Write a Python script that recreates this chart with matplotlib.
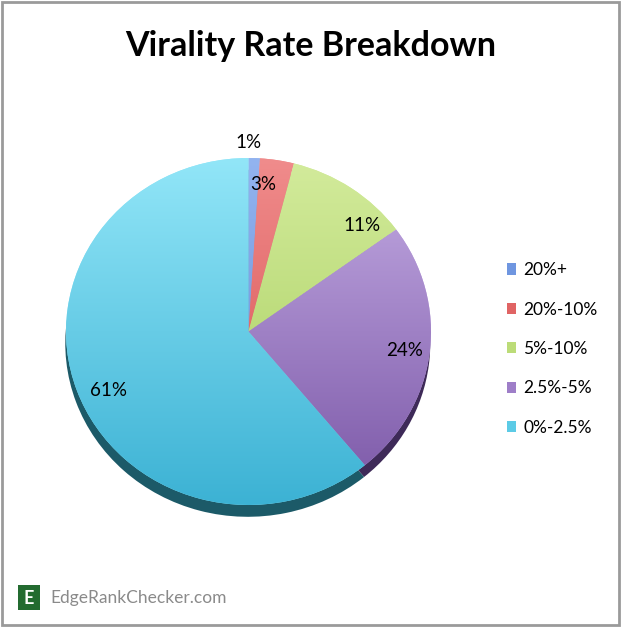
import numpy as np
import matplotlib
matplotlib.use("Agg")
import matplotlib.pyplot as plt
from matplotlib.patches import Rectangle, Patch
from matplotlib.colors import LinearSegmentedColormap

# ---------------- data ----------------
categories = ["20%+", "20%-10%", "5%-10%", "2.5%-5%", "0%-2.5%"]
values = [1, 3, 11, 24, 61]
labels = ["1%", "3%", "11%", "24%", "61%"]
title = "Virality Rate Breakdown"
brand = "EdgeRankChecker.com"

# ---------------- style ----------------
top_colors = ["#93b4f0", "#f08c8c", "#d3eb9c", "#c4ace4", "#92e6f8"]
bot_colors = ["#5f86d0", "#d44848", "#a4cc58", "#7a56a6", "#3cb2d4"]
shadow_colors = ["#30466e", "#6e2424", "#56702a", "#3e2a58", "#1c5a68"]
legend_colors = ["#6f96e0", "#e06464", "#bcdc78", "#9e7ec8", "#5ccbe6"]
label_radius = [1.09, 0.85, 0.87, 0.86, 0.84]
label_shift = [1.8, 3.7, -11.4, -0.3, 3.9]

plt.rcParams["font.family"] = ["Lato", "DejaVu Sans"]

W, H = 622, 628
fig = plt.figure(figsize=(W / 100, H / 100), dpi=100)

# background / decorations axes in pixel coordinates
bg = fig.add_axes([0, 0, 1, 1], zorder=0)
bg.set_xlim(0, W)
bg.set_ylim(H, 0)
bg.axis("off")
bg.add_patch(Rectangle((2, 2), 617, 623, fill=False, edgecolor="#9a9a9a", linewidth=2))
bg.text(311, 46, title, ha="center", va="center", fontsize=24.5, fontweight="bold", color="#000000")
bg.add_patch(Rectangle((18, 585), 22, 25, facecolor="#236b30", edgecolor="none"))
bg.text(29, 598, "E", ha="center", va="center", fontsize=13, fontweight="bold", color="white")
bg.text(50, 598, brand, ha="left", va="center", fontsize=12.5, color="#8a8a8a")

# pie axes
cx, cy, rx, ry = 248.5, 331.5, 182.5, 173.5
ax = fig.add_axes([(cx - rx) / W, (H - cy - ry) / H, 2 * rx / W, 2 * ry / H], zorder=1)

# shadow pie
ax.pie(values, colors=shadow_colors, startangle=90, counterclock=False,
       center=(-0.004, -0.068), radius=1.0, normalize=True,
       wedgeprops=dict(linewidth=0))
wedges, _ = ax.pie(values, colors=top_colors, startangle=90, counterclock=False,
                   radius=1.0, normalize=True, wedgeprops=dict(linewidth=0))
ax.set_aspect("auto")
ax.set_xlim(-1, 1)
ax.set_ylim(-1, 1)
ax.axis("off")

grad = np.linspace(1, 0, 256).reshape(-1, 1)
for w, ct, cb in zip(wedges, top_colors, bot_colors):
    cmap = LinearSegmentedColormap.from_list("g", [cb, ct])
    im = ax.imshow(grad, cmap=cmap, extent=(-1, 1, -1, 1), aspect="auto",
                   origin="upper", zorder=w.get_zorder() + 0.1, vmin=0, vmax=1)
    im.set_clip_path(w)

total = sum(values)
start = 90.0
for v, lab, r, sh in zip(values, labels, label_radius, label_shift):
    span = 360.0 * v / total
    mid = start - span / 2 + sh
    start -= span
    a = np.deg2rad(mid)
    ax.text(r * np.cos(a), r * np.sin(a), lab, ha="center", va="center",
            fontsize=13.5, color="#000000", zorder=10)

handles = [Patch(facecolor=c, edgecolor="none") for c in legend_colors]
fig.legend(handles, categories, loc="center left", bbox_to_anchor=(500 / W, 1 - 349 / H),
           frameon=False, fontsize=12.5, handlelength=0.55, handleheight=0.6,
           handletextpad=0.4, labelspacing=1.35, borderaxespad=0)

fig.savefig("out.png", dpi=100)
